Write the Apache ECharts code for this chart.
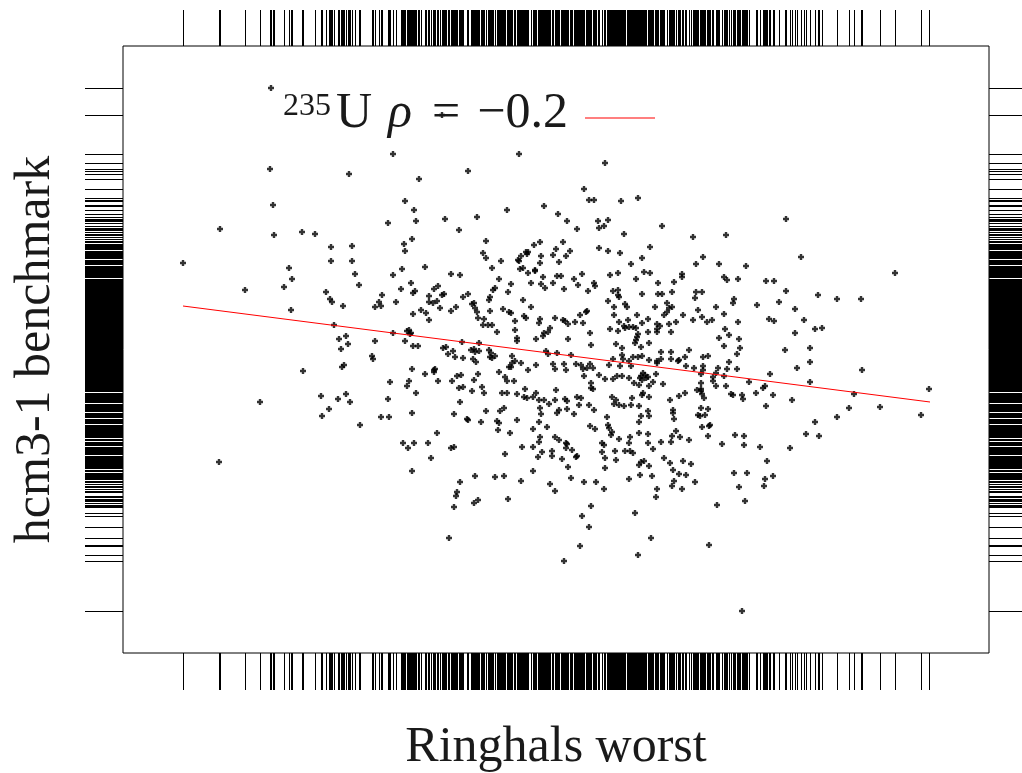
<!DOCTYPE html>
<html>
<head>
<meta charset="utf-8">
<script src="https://cdn.jsdelivr.net/npm/echarts@6/dist/echarts.min.js"></script>
<style>
html, body { margin: 0; padding: 0; background: #fff; }
#main { width: 1022px; height: 773px; }
</style>
</head>
<body>
<div id="main"></div>
<script>
// values (picture units, y grows downward)
var samples = [
[271,88],[393,154],[270,169],[349,174],[419,179],[273,205],[405,201],[414,210],[416,221],[388,223],[220,229],[274,235],[302,232],[315,234],[412,239],[404,244],[405,251],[331,247],[352,246],[331,261],[352,261],[183,263],[289,268],[402,269],[425,267],
[442,115],[519,154],[605,163],[468,171],[584,189],[589,200],[594,200],[621,201],[638,198],[544,206],[507,210],[445,219],[477,217],[558,214],[567,221],[459,230],[577,229],[598,221],[608,220],[599,228],[604,226],[624,234],[662,226],[486,241],[483,253],[486,258],[501,261],[534,245],[540,242],[563,242],[556,249],[570,251],[566,256],[553,255],[541,256],[540,263],[559,262],[521,256],[526,252],[528,252],[527,254],[518,260],[519,261],[599,248],[608,251],[620,253],[650,247],[642,258],[631,264],[492,268],[520,269],[523,268],[535,270],
[786,219],[693,237],[726,235],[703,257],[696,264],[719,264],[746,266],[801,257],
[292,279],[284,287],[245,290],[355,274],[359,285],[326,292],[330,299],[332,302],[343,306],[291,310],[393,275],[411,283],[401,289],[413,293],[415,291],[382,295],[379,302],[381,306],[375,307],[396,302],[429,296],[429,302],[421,310],[413,314],[426,313],[429,320],[334,325],[393,333],[407,331],[409,330],[411,333],[410,334],[346,336],[339,339],[348,344],[375,341],[405,341],[413,346],[418,346],[341,349],[372,356],[373,359],[344,365],[342,367],[303,371],[412,369],[425,374],[390,382],[409,381],[407,386],[416,393],[321,396],[346,394],[338,399],[350,402],[260,402],[388,399],[329,409],[322,416],[381,417],[389,417],[412,413],[360,425],[403,443],[408,448],[414,443],[428,443],
[219,462],[412,471],[431,458],
[451,448],[454,447],[505,454],[522,447],[533,447],[538,457],[542,452],[552,451],[552,456],[566,443],[567,444],[566,448],[572,450],[577,456],[576,457],[562,459],[568,467],[571,478],[533,471],[521,481],[550,484],[555,491],[584,482],[596,482],[604,489],[602,443],[604,445],[602,452],[605,458],[605,468],[615,451],[616,460],[625,451],[630,451],[633,453],[629,443],[648,443],[653,449],[661,442],[671,442],[664,458],[670,463],[673,470],[679,474],[639,465],[641,462],[644,461],[649,466],[640,475],[652,476],[629,479],[674,481],[672,486],[657,489],[656,497],[460,482],[475,476],[495,477],[504,476],[457,492],[456,496],[454,507],[478,500],[474,503],[508,499],[591,506],[582,516],[589,527],[635,513],[449,538],[580,546],[651,538],[638,555],[564,561],
[689,440],[722,444],[744,445],[760,447],[790,448],[683,461],[691,464],[686,475],[682,489],[695,482],[767,461],[734,473],[747,473],[773,476],[765,479],[764,486],[739,487],[745,501],[717,505],[709,545],[742,611],
[895,273],[682,274],[682,277],[674,282],[724,277],[727,280],[738,279],[766,281],[774,281],[672,292],[696,292],[702,292],[786,291],[818,295],[837,299],[861,299],[695,298],[734,299],[733,303],[757,305],[779,302],[716,307],[672,307],[698,310],[795,309],[683,315],[702,317],[724,314],[676,322],[693,320],[707,322],[712,320],[738,322],[769,319],[774,321],[804,320],[815,329],[822,328],[795,333],[725,329],[729,335],[719,338],[739,339],[671,332],[724,346],[740,348],[689,350],[671,352],[785,350],[810,348],[737,354],[685,357],[679,360],[678,361],[671,359],[703,357],[708,356],[729,362],[686,366],[810,362],[862,370],[797,368],[694,368],[703,366],[703,370],[718,368],[727,369],[737,369],[701,374],[716,373],[713,377],[713,381],[724,376],[770,374],[749,382],[810,382],[716,386],[726,386],[701,383],[701,389],[697,390],[701,391],[702,394],[765,386],[763,388],[929,389],[854,394],[731,394],[733,395],[742,395],[743,399],[756,393],[773,395],[792,400],[685,393],[679,396],[704,398],[670,400],[766,406],[849,408],[880,407],[921,415],[701,408],[708,409],[673,410],[673,413],[674,419],[698,415],[700,416],[705,415],[837,417],[815,422],[702,427],[709,426],[710,425],[676,431],[672,436],[680,437],[708,436],[735,435],[744,436],[806,434],[819,436],
[451,274],[460,275],[499,279],[511,284],[528,273],[535,271],[531,283],[543,277],[541,284],[545,288],[553,283],[557,276],[561,276],[564,289],[574,279],[578,285],[582,274],[594,283],[595,286],[588,291],[610,275],[618,273],[636,279],[644,272],[650,273],[658,283],[495,288],[493,290],[508,292],[438,286],[434,289],[442,295],[444,294],[437,301],[433,303],[463,297],[468,294],[490,297],[489,300],[440,308],[451,311],[456,307],[472,304],[474,303],[475,308],[477,312],[478,318],[484,319],[490,311],[503,309],[509,312],[511,313],[515,321],[523,300],[531,307],[524,316],[526,318],[540,319],[539,323],[555,318],[563,320],[565,321],[568,324],[575,322],[580,315],[586,312],[587,311],[583,323],[613,291],[618,290],[618,295],[619,297],[608,301],[614,307],[625,304],[627,307],[614,315],[619,322],[637,315],[628,320],[625,328],[642,294],[658,294],[662,294],[655,307],[667,303],[669,308],[667,312],[664,315],[648,319],[642,323],[657,324],[660,326],[669,324],
[483,325],[488,325],[492,325],[497,332],[515,330],[517,338],[517,341],[536,339],[543,336],[544,333],[548,332],[550,328],[568,339],[590,333],[591,345],[610,329],[618,331],[624,326],[629,327],[633,327],[636,328],[638,334],[637,337],[636,340],[635,343],[648,332],[657,332],[657,329],[649,343],[641,347],[616,344],[622,348],[462,342],[479,343],[443,348],[446,347],[448,354],[453,351],[455,357],[463,358],[471,350],[474,349],[475,352],[479,351],[489,350],[491,353],[490,357],[492,358],[495,356],[473,359],[476,362],[512,356],[515,361],[512,363],[511,367],[509,367],[521,363],[528,370],[536,365],[546,351],[548,354],[557,353],[571,355],[553,364],[555,369],[564,364],[566,370],[576,364],[581,365],[583,369],[584,376],[587,368],[593,368],[590,364],[599,375],[613,359],[622,355],[623,359],[609,365],[620,366],[629,361],[633,357],[631,366],[638,357],[642,356],[649,360],[657,361],[657,363],[661,352],[661,359],
[434,370],[435,369],[434,372],[438,381],[452,381],[457,376],[461,375],[459,388],[463,387],[474,380],[478,374],[472,391],[482,387],[484,393],[499,372],[505,377],[507,381],[514,381],[502,393],[507,393],[517,394],[525,389],[524,397],[527,398],[533,397],[536,393],[539,400],[544,400],[549,404],[555,400],[556,390],[565,399],[567,401],[577,397],[581,398],[579,405],[589,405],[594,410],[591,383],[591,388],[593,389],[605,379],[613,379],[617,376],[622,376],[629,378],[634,383],[639,385],[643,373],[645,375],[646,378],[648,377],[640,378],[641,376],[642,380],[649,386],[653,382],[656,374],[643,393],[642,395],[649,397],[663,384],[612,397],[616,400],[619,405],[624,406],[631,405],[614,404],[632,398],[639,406],[641,416],[649,416],[639,422],[648,411],
[460,402],[454,414],[467,419],[468,420],[481,422],[486,411],[497,421],[499,423],[500,411],[504,408],[517,420],[498,430],[510,433],[540,408],[541,414],[539,422],[533,429],[547,427],[559,410],[557,413],[567,409],[574,414],[590,426],[595,429],[607,417],[608,425],[609,428],[612,432],[611,435],[619,439],[630,437],[639,433],[648,434],[437,433],[540,437],[539,442],[555,437],[559,440]
];
var fitLine = [[183,306],[930,402]];
var xRange = [123, 989];
var yRange = [46, 653];
var rhoText = '\u22120.2';

var serif = "'Liberation Serif','DejaVu Serif',serif";
var ink = '#1a1a1a';

// 边缘刻度 (rug) on all four sides
function renderRug(params, api) {
	var p = api.coord([api.value(0), api.value(1)]);
	var cs = params.coordSys;
	var x = Math.round(p[0]) + 0.5, y = Math.round(p[1]) + 0.5;
	var st = { stroke: '#000', lineWidth: 1 };
	return {
		type: 'group',
		children: [
			{ type: 'line', shape: { x1: x, y1: cs.y - 36, x2: x, y2: cs.y }, style: st },
			{ type: 'line', shape: { x1: x, y1: cs.y + cs.height, x2: x, y2: cs.y + cs.height + 37 }, style: st },
			{ type: 'line', shape: { x1: cs.x - 38, y1: y, x2: cs.x, y2: y }, style: st },
			{ type: 'line', shape: { x1: cs.x + cs.width, y1: y, x2: cs.x + cs.width + 38, y2: y }, style: st }
		]
	};
}

var chart = echarts.init(document.getElementById('main'));
var option = {
	animation: false,
	backgroundColor: '#fff',
	grid: {
		left: 123, top: 46, width: 866, height: 607,
		containLabel: false, outerBoundsMode: 'none',
		show: true, borderColor: '#000', borderWidth: 1, backgroundColor: 'transparent'
	},
	legend: {
		data: ['fit'],
		left: 278, top: 84,
		align: 'right',
		icon: 'rect',
		itemWidth: 70, itemHeight: 1,
		formatter: function () {
			return '{s|235}{u|U}{i|\u03c1}{e|=}{n|' + rhoText + '}';
		},
		textStyle: {
			color: ink,
			rich: {
				s: { fontFamily: serif, fontSize: 32, color: ink, padding: [0, 0, 22, 0] },
				u: { fontFamily: serif, fontSize: 50, color: ink, padding: [0, 0, 8, 5] },
				i: { fontFamily: serif, fontSize: 50, fontStyle: 'italic', color: ink, padding: [0, 0, 8, 16] },
				e: { fontFamily: serif, fontSize: 50, color: ink, padding: [0, 0, 8, 20] },
				n: { fontFamily: serif, fontSize: 50, color: ink, padding: [0, 12, 8, 17] }
			}
		}
	},
	xAxis: {
		type: 'value', min: xRange[0], max: xRange[1],
		axisLine: { show: false }, axisTick: { show: false },
		axisLabel: { show: false }, splitLine: { show: false },
		name: 'Ringhals worst', nameLocation: 'middle', nameGap: 70,
		nameTextStyle: { fontFamily: serif, fontSize: 50, color: ink }
	},
	yAxis: {
		type: 'value', inverse: true, min: yRange[0], max: yRange[1],
		axisLine: { show: false }, axisTick: { show: false },
		axisLabel: { show: false }, splitLine: { show: false },
		name: 'hcm3-1 benchmark', nameLocation: 'middle', nameGap: 62, nameRotate: 90,
		nameTextStyle: { fontFamily: serif, fontSize: 50, color: ink }
	},
	series: [
		{
			type: 'custom', name: 'rug', data: samples,
			renderItem: renderRug, clip: false, silent: true, z: 1
		},
		{
			type: 'scatter', name: 'points', data: samples,
			symbol: 'path://M1.5,0H3.5V1.5H5V3.5H3.5V5H1.5V3.5H0V1.5H1.5Z',
			symbolSize: 6,
			itemStyle: { color: '#000' },
			silent: true, z: 2
		},
		{
			type: 'line', name: 'fit', data: fitLine,
			showSymbol: false, color: '#ff0000',
			lineStyle: { color: '#ff0000', width: 1 },
			silent: true, z: 3
		}
	]
};
chart.setOption(option);
</script>
</body>
</html>
